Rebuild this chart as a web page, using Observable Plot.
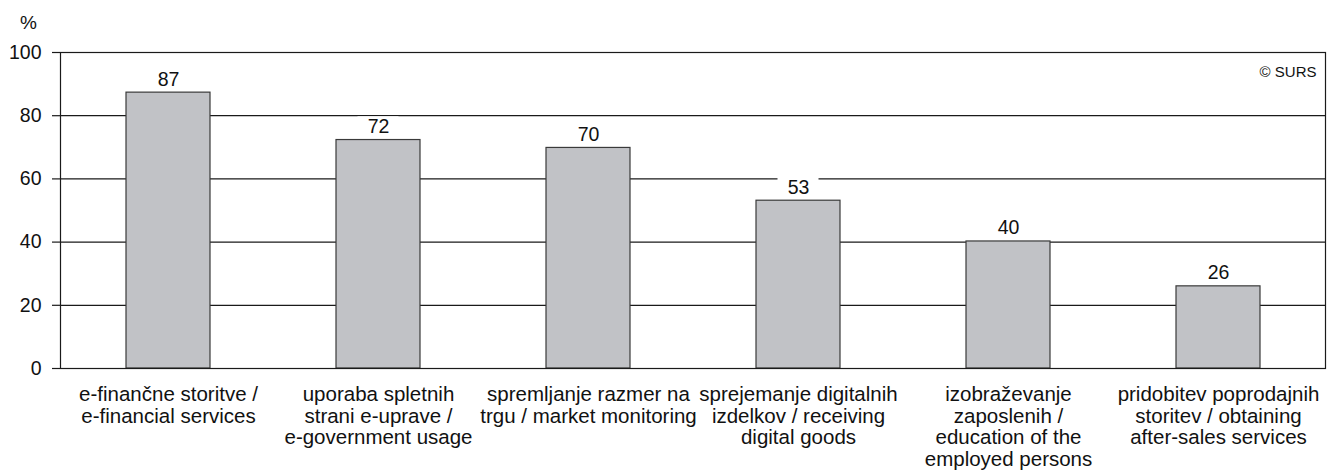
<!DOCTYPE html>
<html>
<head>
<meta charset="utf-8">
<script src="https://cdn.jsdelivr.net/npm/d3@7"></script>
<script src="https://cdn.jsdelivr.net/npm/@observablehq/plot@0.6"></script>
<style>
  html, body { margin: 0; padding: 0; background: #fff; }
  #chart svg { display: block; }
</style>
</head>
<body>
<div id="chart"></div>
<script>
const categories = [
  "e-finančne storitve /\ne-financial services",
  "uporaba spletnih\nstrani e-uprave /\ne-government usage",
  "spremljanje razmer na\ntrgu / market monitoring",
  "sprejemanje digitalnih\nizdelkov / receiving\ndigital goods",
  "izobraževanje\nzaposlenih /\neducation of the\nemployed persons",
  "pridobitev poprodajnih\nstoritev / obtaining\nafter-sales services"
];
const values = [87.3, 72.3, 69.8, 53.1, 40.2, 26.0];
const yTicks = [0, 20, 40, 60, 80, 100];
const unitLabel = "%";
const sourceLabel = "© SURS";

const data = categories.map((c, i) => ({cat: c, v: values[i]}));
const font = "'Liberation Sans', Arial, Helvetica, sans-serif";

const chart = Plot.plot({
  width: 1327,
  height: 470,
  marginLeft: 60,
  marginRight: 2,
  marginTop: 52,
  marginBottom: 102,
  style: {fontFamily: font, fontSize: "19px", color: "#111", background: "#fff"},
  x: {domain: categories, paddingInner: 0.6, paddingOuter: 0.3, align: 0.5, axis: null},
  y: {domain: [0, 100], axis: null},
  marks: [
    Plot.ruleY(yTicks.filter(t => t > 0), {stroke: "#1a1a1a", strokeWidth: 1.2}),
    Plot.barY(data, {x: "cat", y: "v", fill: "#c1c2c6", stroke: "#3a3a3a", strokeWidth: 1.2}),
    Plot.barY(data, {x: "cat", y1: d => d.v + 1, y2: d => d.v + 7.35, fill: "white", insetLeft: 21.5, insetRight: 21.5}),
    Plot.text(data, {x: "cat", y: "v", text: d => String(Math.round(d.v)), lineAnchor: "bottom", dy: -7, fontSize: 19.5, fill: "#111"}),
    Plot.frame({stroke: "#1a1a1a", strokeWidth: 1.2}),
    Plot.axisY({ticks: yTicks, label: null, tickSize: 8, tickPadding: 11, fontSize: 19.5, stroke: "#1a1a1a", strokeWidth: 1.2, fill: "#111", tickFormat: d => String(d)}),
    Plot.text(categories, {x: d => d, frameAnchor: "bottom", lineAnchor: "top", dy: 17, lineHeight: 1.06, fontSize: 20.5, fill: "#111"}),
    Plot.text([unitLabel], {frameAnchor: "top-left", dx: -32, dy: -30, textAnchor: "middle", lineAnchor: "middle", fontSize: 19, fill: "#111"}),
    Plot.text([sourceLabel], {frameAnchor: "top-right", dx: -9, dy: 20, textAnchor: "end", lineAnchor: "middle", fontSize: 15, fill: "#111"})
  ]
});
document.getElementById("chart").appendChild(chart);
</script>
</body>
</html>
